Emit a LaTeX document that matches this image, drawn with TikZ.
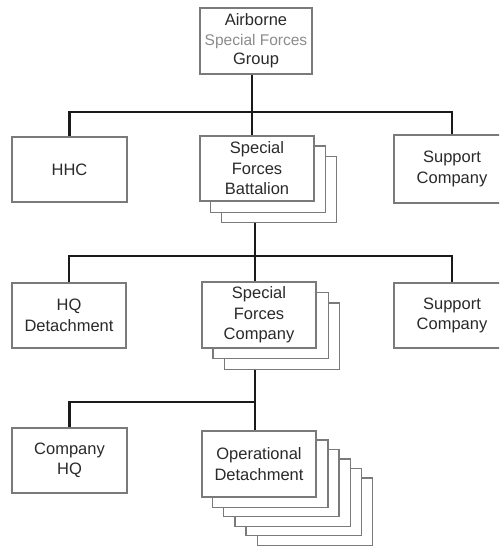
\documentclass[tikz,border=0pt]{standalone}
\usepackage{fontspec}
\setmainfont{Liberation Sans}
\definecolor{boxline}{HTML}{7A7A7A}
\definecolor{txt}{HTML}{2A2A2A}
\definecolor{subtxt}{HTML}{8C8C8C}
\definecolor{link}{HTML}{1A1A1A}
\tikzset{
  unit/.style={draw=boxline, line width=1.4pt, fill=white, minimum width=114pt,
    minimum height=65pt, inner sep=0pt, align=center, text=txt,
    font=\fontsize{16.5}{20.5}\selectfont},
  layer/.style={draw=boxline, line width=1.4pt, fill=white},
  wire/.style={draw=link, line width=2.4pt}
}
% back sheets of a stacked box: #1 = front node, #2 = count, #3 = dx, #4 = dy
\newcommand\sheets[4]{%
  \foreach \k in {#2,...,1}{
    \path[layer] ([shift={(\k*#3,-\k*#4)}]#1.south west) rectangle ([shift={(\k*#3,-\k*#4)}]#1.north east);
  }}
\begin{document}
\begin{tikzpicture}[x=1pt,y=1pt]
\useasboundingbox (0,0) rectangle (499,-546);
\begin{scope}
\clip (0,0) rectangle (499,-546);

% tier 0
\node[unit, minimum width=112pt, minimum height=66pt] (grp) at (256,-41)
  {Airborne\\[-1pt]{\fontsize{15.5}{19}\selectfont\color{subtxt}Special Forces}\\[-1pt]Group};

% tier 1
\node[unit, minimum width=115pt] (hhc) at (69.5,-169.5) {HHC};
\coordinate (bnpos) at (257,-168.5);
\node[unit, opacity=0] (bn0) at (bnpos) {};
\sheets{bn0}{2}{11}{10.5}
\node[unit] (bn) at (bnpos) {Special\\Forces\\Battalion};
\node[unit, minimum width=116pt, minimum height=68pt] (sup1) at (452,-169) {Support\\Company};

% tier 2
\node[unit] (hqd) at (69,-315.5) {HQ\\Detachment};
\coordinate (copos) at (259,-315);
\node[unit, opacity=0] (co0) at (copos) {};
\sheets{co0}{2}{11.5}{10.5}
\node[unit, minimum height=66pt] (co) at (copos) {Special\\Forces\\Company};
\node[unit, minimum width=116pt] (sup2) at (452,-315.5) {Support\\Company};

% tier 3
\node[unit, minimum width=115pt] (chq) at (69.5,-460.5) {Company\\HQ};
\coordinate (odpos) at (259,-464);
\node[unit, minimum height=66pt, opacity=0] (od0) at (odpos) {};
\sheets{od0}{5}{11.2}{9.5}
\node[unit, minimum height=66pt] (od) at (odpos) {Operational\\Detachment};

% connectors
\coordinate (bus1) at (252,-112);
\draw[wire] ([xshift=-4pt]grp.south) -- (bus1);
\draw[wire] (hhc.north) |- (bus1) -| (sup1.north);
\draw[wire] (bus1) -- (bus1 |- bn.north);

\coordinate (bus2) at (255,-256);
\draw[wire] ([xshift=-2pt,yshift=-21pt]bn.south) -- (bus2);
\draw[wire] (hqd.north) |- (bus2) -| (sup2.north);
\draw[wire] (bus2) -- (bus2 |- co.north);

\coordinate (bus3) at (255,-402);
\draw[wire] ([xshift=-4pt,yshift=-21pt]co.south) -- (bus3);
\draw[wire] (chq.north) |- (bus3);
\draw[wire] (bus3) -- (bus3 |- od.north);
\end{scope}
\end{tikzpicture}
\end{document}
